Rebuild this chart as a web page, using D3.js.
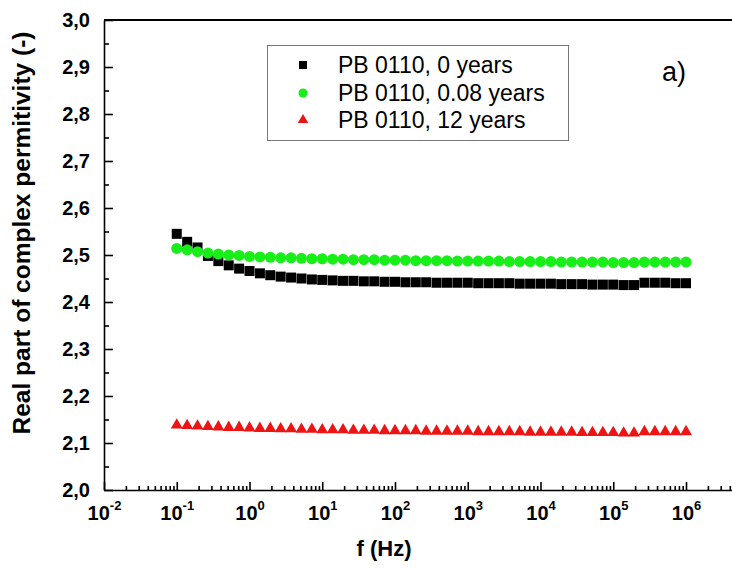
<!DOCTYPE html>
<meta charset="utf-8">

<script src="https://d3js.org/d3.v7.min.js"></script>

<style type="text/css">
  body { margin: 0; background: #fff; }
  text { font-family: "Liberation Sans", Arial, sans-serif; }
  .axis path, .axis line { stroke: #000; stroke-width: 1.6; }
  .axis text { font-size: 20px; font-weight: bold; fill: #000; }
</style>

<body>
</body>

<script>

var freq = [0.1, 0.139, 0.193, 0.268, 0.373, 0.518, 0.72,
            1, 1.39, 1.93, 2.68, 3.73, 5.18, 7.2,
            10, 13.9, 19.3, 26.8, 37.3, 51.8, 72,
            100, 139, 193, 268, 373, 518, 720,
            1e3, 1390, 1930, 2680, 3730, 5180, 7200,
            1e4, 13900, 19300, 26800, 37300, 51800, 72000,
            1e5, 139000, 193000, 268000, 373000, 518000, 720000,
            1e6];

var years0 = [2.545, 2.528, 2.516, 2.498, 2.487, 2.478, 2.471,
              2.466, 2.461, 2.457, 2.454, 2.452, 2.450, 2.448,
              2.447, 2.446, 2.445, 2.445, 2.444, 2.444, 2.443,
              2.443, 2.442, 2.442, 2.442, 2.441, 2.441, 2.441,
              2.441, 2.440, 2.440, 2.440, 2.440, 2.439, 2.439,
              2.439, 2.439, 2.438, 2.438, 2.438, 2.437, 2.437,
              2.437, 2.436, 2.436, 2.441, 2.441, 2.441, 2.440,
              2.440];

var years008 = [2.514, 2.511, 2.507, 2.504, 2.502, 2.500, 2.499,
                2.497, 2.496, 2.495, 2.494, 2.494, 2.493, 2.492,
                2.492, 2.491, 2.491, 2.490, 2.490, 2.490, 2.489,
                2.489, 2.489, 2.488, 2.488, 2.488, 2.488, 2.487,
                2.487, 2.487, 2.487, 2.487, 2.486, 2.486, 2.486,
                2.486, 2.486, 2.485, 2.485, 2.485, 2.485, 2.485,
                2.484, 2.484, 2.484, 2.485, 2.485, 2.485, 2.485,
                2.485];

var years12 = [2.138, 2.137, 2.136, 2.135, 2.134, 2.133, 2.133,
               2.132, 2.131, 2.131, 2.130, 2.130, 2.129, 2.129,
               2.128, 2.128, 2.128, 2.127, 2.127, 2.127, 2.126,
               2.126, 2.126, 2.126, 2.125, 2.125, 2.125, 2.125,
               2.125, 2.124, 2.124, 2.124, 2.124, 2.124, 2.123,
               2.123, 2.123, 2.123, 2.123, 2.122, 2.122, 2.122,
               2.122, 2.121, 2.121, 2.124, 2.124, 2.124, 2.124,
               2.124];

var seriesNames = ["PB 0110, 0 years", "PB 0110, 0.08 years", "PB 0110, 12 years"];
var xTicks = [1e-2, 1e-1, 1e0, 1e1, 1e2, 1e3, 1e4, 1e5, 1e6];
var xExps = ["-2", "-1", "0", "1", "2", "3", "4", "5", "6"];
var yTicks = [2.0, 2.1, 2.2, 2.3, 2.4, 2.5, 2.6, 2.7, 2.8, 2.9, 3.0];

var width = 732, height = 570;
var plotLeft = 104, plotTop = 20, plotBottom = 490;
var decade = 72.75;

var svg = d3.select("body").append("svg")
    .attr("width", width)
    .attr("height", height);

var x = d3.scaleLog()
    .domain([1e-2, 5e6])
    .range([plotLeft, plotLeft + decade * Math.log10(5e8)]);

var y = d3.scaleLinear()
    .domain([2.0, 3.0])
    .range([plotBottom, plotTop]);

var comma = d3.formatLocale({decimal: ",", thousands: ".", grouping: [3], currency: ["", ""]}).format(".1f");

// minor ticks
var xMinor = [];
for (var e = -2; e <= 6; e++) {
  for (var m = 2; m <= 9; m++) xMinor.push(m * Math.pow(10, e));
}
xMinor = xMinor.filter(function(d) { return d <= 5e6; });
var yMinor = yTicks.slice(0, -1).map(function(d) { return d + 0.05; });

svg.append("g")
    .attr("class", "axis")
    .attr("transform", "translate(0," + plotBottom + ")")
    .call(d3.axisBottom(x).tickValues(xMinor).tickSize(-4).tickFormat(""))
    .select(".domain").remove();

svg.append("g")
    .attr("class", "axis")
    .attr("transform", "translate(" + plotLeft + ",0)")
    .call(d3.axisLeft(y).tickValues(yMinor).tickSize(-5).tickFormat(""))
    .select(".domain").remove();

var xAxis = svg.append("g")
    .attr("class", "axis")
    .attr("transform", "translate(0," + plotBottom + ")")
    .call(d3.axisBottom(x).tickValues(xTicks).tickSizeInner(-8).tickSizeOuter(0).tickPadding(16).tickFormat(""));

xAxis.selectAll(".tick text")
    .each(function(d, i) {
      var t = d3.select(this).attr("font-size", 21);
      t.append("tspan").text("10");
      t.append("tspan").attr("dy", -10).attr("font-size", 13).text(xExps[i]);
    });

svg.append("g")
    .attr("class", "axis")
    .attr("transform", "translate(" + plotLeft + ",0)")
    .call(d3.axisLeft(y).tickValues(yTicks).tickSizeInner(-9).tickSizeOuter(0).tickPadding(14).tickFormat(comma));

// top frame line
svg.append("line")
    .attr("x1", plotLeft).attr("x2", width)
    .attr("y1", plotTop).attr("y2", plotTop)
    .attr("stroke", "#000").attr("stroke-width", 1.8);

// axis titles
svg.append("text")
    .attr("x", 384).attr("y", 556)
    .attr("text-anchor", "middle")
    .attr("font-size", 22).attr("font-weight", "bold")
    .text("f (Hz)");

svg.append("text")
    .attr("transform", "translate(30,233) rotate(-90)")
    .attr("text-anchor", "middle")
    .attr("font-size", 24.5).attr("font-weight", "bold")
    .text("Real part of complex permitivity (-)");

// data
var black = "#000000", green = "#18ee18", red = "#ee1414";

svg.append("g").selectAll("rect")
    .data(years0)
  .enter().append("rect")
    .attr("x", function(d, i) { return x(freq[i]) - 5; })
    .attr("y", function(d) { return y(d) - 5; })
    .attr("width", 10).attr("height", 10)
    .attr("fill", black);

svg.append("g").selectAll("circle")
    .data(years008)
  .enter().append("circle")
    .attr("cx", function(d, i) { return x(freq[i]); })
    .attr("cy", function(d) { return y(d); })
    .attr("r", 5.5)
    .attr("fill", green);

var tri = d3.symbol().type(d3.symbolTriangle).size(62);

svg.append("g").selectAll("path")
    .data(years12)
  .enter().append("path")
    .attr("d", tri)
    .attr("transform", function(d, i) { return "translate(" + x(freq[i]) + "," + y(d) + ")"; })
    .attr("fill", red);

// legend
var legend = svg.append("g");

legend.append("rect")
    .attr("x", 267.5).attr("y", 45.5)
    .attr("width", 301).attr("height", 95)
    .attr("fill", "#fff").attr("stroke", "#777").attr("stroke-width", 1);

var rows = [65, 93, 120];

legend.append("rect")
    .attr("x", 299).attr("y", rows[0] - 4)
    .attr("width", 8).attr("height", 8)
    .attr("fill", black);
legend.append("circle")
    .attr("cx", 303).attr("cy", rows[1])
    .attr("r", 4.5)
    .attr("fill", green);
legend.append("path")
    .attr("d", d3.symbol().type(d3.symbolTriangle).size(48))
    .attr("transform", "translate(303," + rows[2] + ")")
    .attr("fill", red);

legend.selectAll("text")
    .data(seriesNames)
  .enter().append("text")
    .attr("x", 338)
    .attr("y", function(d, i) { return rows[i] + 8; })
    .attr("font-size", 23)
    .attr("fill", "#000")
    .text(function(d) { return d; });

svg.append("text")
    .attr("x", 662).attr("y", 81)
    .attr("font-size", 27)
    .text("a)");

</script>
